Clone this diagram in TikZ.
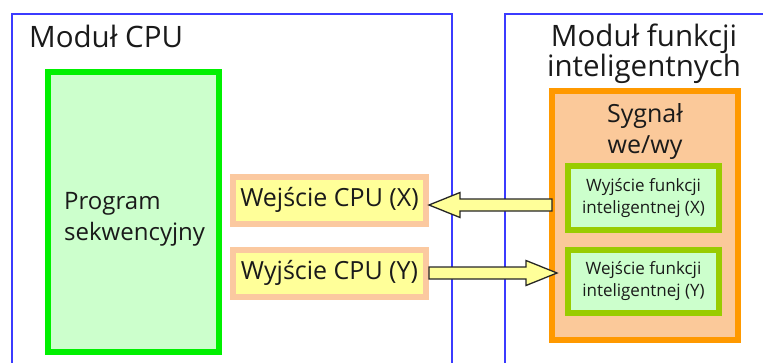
\documentclass[tikz,border=0pt]{standalone}
\usepackage{fontspec}
\setmainfont{Open Sans}
\usetikzlibrary{calc}
\definecolor{modblue}{HTML}{3B3BFF}
\definecolor{pgreen}{HTML}{00F000}
\definecolor{pgreenfill}{HTML}{CCFFCC}
\definecolor{lblborder}{HTML}{FBC9A0}
\definecolor{lblfill}{HTML}{FFFF99}
\definecolor{sigorange}{HTML}{FF9900}
\definecolor{sigfill}{HTML}{FBC99A}
\definecolor{ygreen}{HTML}{99CC00}
\definecolor{txt}{HTML}{1A1A1A}
\tikzset{
  modline/.style={draw=modblue, line width=2pt},
  progbox/.style={draw=pgreen, fill=pgreenfill, line width=6pt, minimum width=171pt, minimum height=280pt, inner sep=0pt},
  cpulbl/.style={draw=lblborder, fill=lblfill, line width=6pt, minimum width=193pt, minimum height=47pt, inner sep=0pt, font=\fontsize{25}{30}\selectfont, text=txt},
  sigbox/.style={draw=sigorange, fill=sigfill, line width=6pt, minimum width=186pt, minimum height=249pt, inner sep=0pt},
  funcbox/.style={draw=ygreen, fill=pgreenfill, line width=6pt, minimum width=151pt, minimum height=63pt, inner sep=0pt, align=center, font=\fontsize{17}{22}\selectfont, text=txt},
  titletxt/.style={inner sep=0pt, text=txt, font=\fontsize{29.5}{30}\selectfont},
  blockarr/.style={draw=black!85, fill=lblfill, line width=1.3pt, line join=miter,
    to path={let \p1=(\tikztostart), \p2=(\tikztotarget), \n1={ifthenelse(\x2>\x1,1,-1)} in
      (\x1,\y1+6pt) -- (\x2-\n1*31pt,\y1+6pt) -- (\x2-\n1*31pt,\y1+12.5pt) -- (\x2,\y1)
      -- (\x2-\n1*31pt,\y1-12.5pt) -- (\x2-\n1*31pt,\y1-6pt) -- (\x1,\y1-6pt) -- cycle}}
}
\begin{document}
\begin{tikzpicture}[x=1pt,y=-1pt]
\useasboundingbox (0,0) rectangle (763,362);
% module frames
\coordinate (cpuBL) at (12,364);
\coordinate (cpuTL) at (12,14);
\coordinate (cpuTR) at (452,14);
\coordinate (cpuBR) at (452,364);
\coordinate (smBL) at (505,364);
\coordinate (smTL) at (505,14);
\coordinate (smTR) at (766,14);
\draw[modline] (cpuBL) -- (cpuTL) -- (cpuTR) -- (cpuBR);
\draw[modline] (smBL) -- (smTL) -- (smTR);
% titles
\node[titletxt, anchor=base west] (cputitle) at (29,47) {Moduł CPU};
\node[titletxt, align=center, anchor=center] (smtitle) at (644,54) {Moduł funkcji\\inteligentnych};
% CPU side
\node[progbox] (prog) at (133.5,212) {};
\node[inner sep=0pt, align=left, anchor=west, text=txt, font=\fontsize{24}{31}\selectfont] (progtxt) at (64,219) {Program\\sekwencyjny};
\node[cpulbl] (wejX) at (329.5,200) {Wejście CPU (X)};
\node[cpulbl] (wyjY) at (329.5,273) {Wyjście CPU (Y)};
% smart module side
\node[sigbox] (sig) at (645,215.5) {};
\node[inner sep=0pt, align=center, text=txt, font=\fontsize{25}{31}\selectfont] (sigtxt) at (645,132) {Sygnał\\we/wy};
\node[funcbox, minimum height=64pt] (fX) at (643.5,198) {Wyjście funkcji\\inteligentnej (X)};
\node[funcbox] (fY) at (643.5,281.5) {Wejście funkcji\\inteligentnej (Y)};
% arrows
\coordinate (a1) at ([yshift=-5pt]wejX.east);
\coordinate (a1s) at ([xshift=3pt]sig.west |- a1);
\draw[blockarr] (a1s) to (a1);
\coordinate (a2) at (wyjY.east);
\coordinate (a2e) at ([xshift=8pt]sig.west |- a2);
\draw[blockarr] (a2) to (a2e);
\end{tikzpicture}
\end{document}
